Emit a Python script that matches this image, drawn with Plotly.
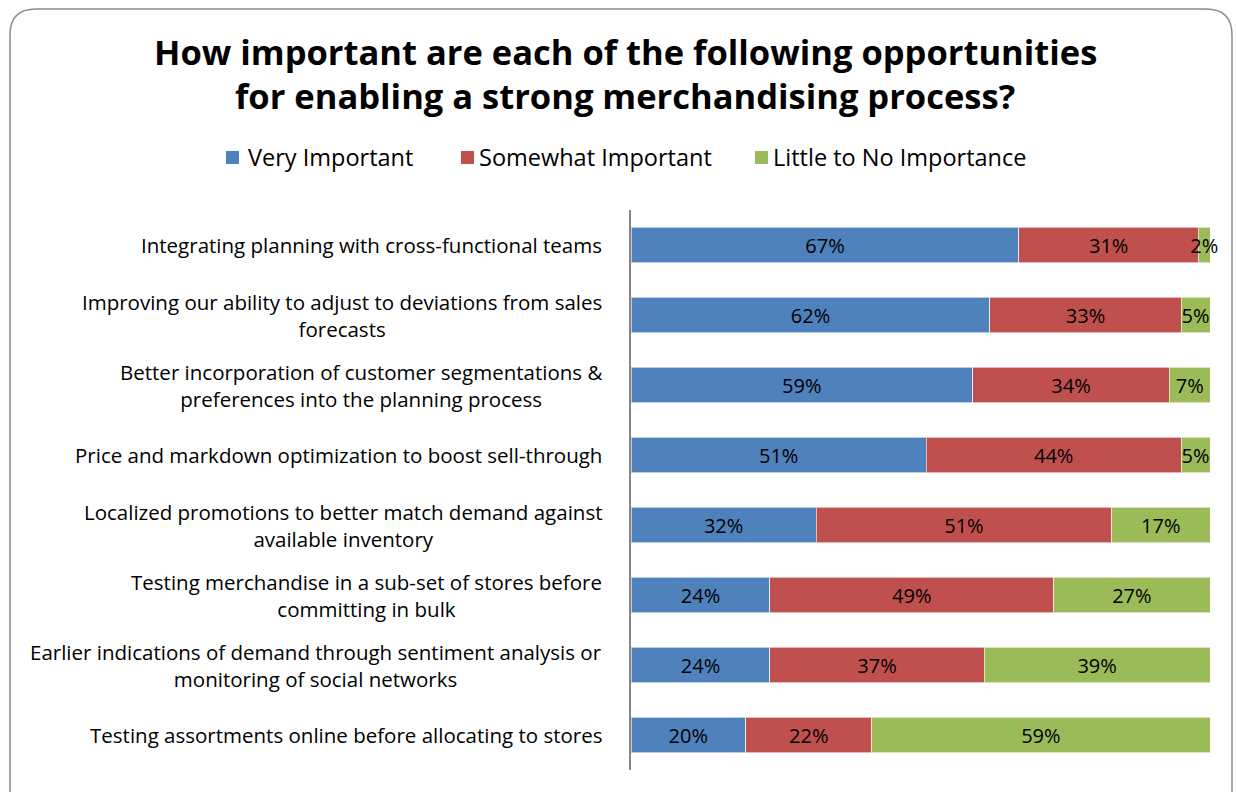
import plotly.graph_objects as go

# Survey categories, top to bottom
categories = [
    "Integrating planning with cross-functional teams",
    "Improving our ability to adjust to deviations from sales<br>forecasts",
    "Better incorporation of customer segmentations &<br>preferences into the planning process",
    "Price and markdown optimization to boost sell-through",
    "Localized promotions to better match demand against<br>available inventory",
    "Testing merchandise in a sub-set of stores before<br>committing in bulk",
    "Earlier indications of demand through sentiment analysis or<br>monitoring of social networks",
    "Testing assortments online before allocating to stores",
]

very_important = [67, 62, 59, 51, 32, 24, 24, 20]
somewhat_important = [31, 33, 34, 44, 51, 49, 37, 22]
little_to_none = [2, 5, 7, 5, 17, 27, 39, 59]

series_names = ["Very Important", "Somewhat Important", "Little to No Importance"]
series_values = [very_important, somewhat_important, little_to_none]
series_colors = ["#4F81BD", "#C0504D", "#9BBB59"]

title_lines = [
    "How important are each of the following opportunities",
    "for enabling a strong merchandising process?",
]

FONT = "'Open Sans', Lato, sans-serif"
W, H = 1236, 792
ML, MR, MT, MB = 631, 26, 210, 22
PW, PH = W - ML - MR, H - MT - MB


def px_x(px):
    return (px - ML) / PW


def px_y(py):
    return (H - MB - py) / PH


fig = go.Figure()

row_ids = list(range(len(categories)))
for name, vals, color in zip(series_names, series_values, series_colors):
    fig.add_trace(go.Bar(
        name=name,
        y=row_ids,
        x=vals,
        orientation="h",
        marker=dict(color=color, line=dict(color="rgba(255,255,255,0.6)", width=1)),
        text=[f"{v}%" for v in vals],
        textposition="inside",
        insidetextanchor="middle",
        textangle=0,
        constraintext="none",
        textfont=dict(family=FONT, size=20, color="black"),
        cliponaxis=False,
        showlegend=False,
        hovertemplate="%{x}%<extra>" + name + "</extra>",
    ))

annotations = []

# Category labels, right-aligned block with centred lines
for i, cat in enumerate(categories):
    annotations.append(dict(
        text=cat, x=0, xref="paper", y=i, yref="y",
        xanchor="right", yanchor="middle", xshift=-27, align="center",
        showarrow=False, font=dict(family=FONT, size=20.5, color="black"),
    ))

# Title, one annotation per line
for line, cy in zip(title_lines, [52, 95]):
    annotations.append(dict(
        text="<b>" + line + "</b>", x=px_x(625), xref="paper",
        y=px_y(cy), yref="paper", xanchor="center", yanchor="middle",
        showarrow=False, font=dict(family=FONT, size=34.5, color="black"),
    ))

# Legend drawn as swatches + labels
shapes = []
legend_swatch_x = [226, 461, 755]
legend_text_x = [246, 477, 771]
for name, color, sx, tx in zip(series_names, series_colors, legend_swatch_x, legend_text_x):
    shapes.append(dict(
        type="rect", xref="paper", yref="paper",
        x0=px_x(sx), x1=px_x(sx + 13), y0=px_y(164), y1=px_y(151),
        fillcolor=color, line=dict(width=0),
    ))
    annotations.append(dict(
        text=name, x=px_x(tx), xref="paper", y=px_y(157), yref="paper",
        xanchor="left", yanchor="middle", showarrow=False,
        font=dict(family=FONT, size=23.5, color="black"),
    ))

# Rounded outer frame
fl, fr, ft, fb, rr = 10, 1232, 9, 805, 26
path = (
    f"M {px_x(fl)},{px_y(fb)} "
    f"L {px_x(fl)},{px_y(ft + rr)} "
    f"Q {px_x(fl)},{px_y(ft)} {px_x(fl + rr)},{px_y(ft)} "
    f"L {px_x(fr - rr)},{px_y(ft)} "
    f"Q {px_x(fr)},{px_y(ft)} {px_x(fr)},{px_y(ft + rr)} "
    f"L {px_x(fr)},{px_y(fb)}"
)
shapes.append(dict(
    type="path", xref="paper", yref="paper", path=path,
    line=dict(color="#8C8C8C", width=1.5), layer="below",
))

fig.update_layout(
    width=W, height=H,
    margin=dict(l=ML, r=MR, t=MT, b=MB),
    barmode="stack",
    barnorm="percent",
    bargap=0.486,
    paper_bgcolor="white",
    plot_bgcolor="white",
    font=dict(family=FONT, color="black"),
    xaxis=dict(range=[0, 100], visible=False, fixedrange=True),
    yaxis=dict(
        autorange="reversed", showticklabels=False, showgrid=False,
        zeroline=False, showline=True, linecolor="#868686", linewidth=2,
        ticks="", fixedrange=True,
    ),
    annotations=annotations,
    shapes=shapes,
)

fig.write_html("out.html")
